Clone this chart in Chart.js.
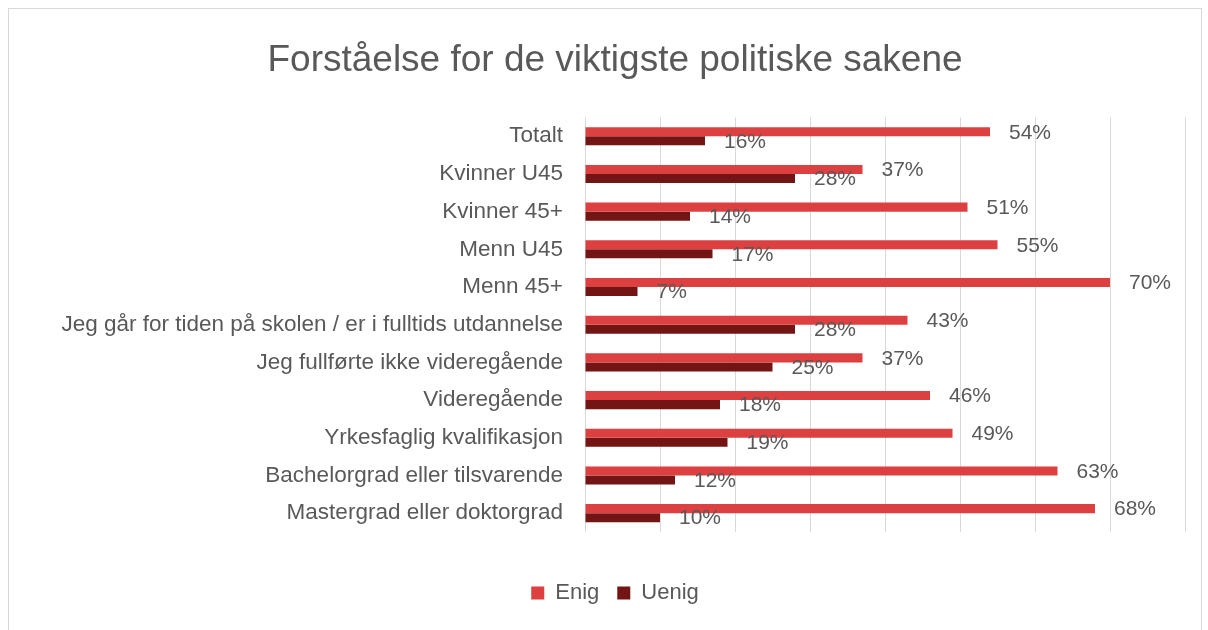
<!DOCTYPE html>
<html>
<head>
<meta charset="utf-8">
<script src="https://cdn.jsdelivr.net/npm/chart.js@4"></script>
<style>
    body { margin: 0; background: #fff; }
    .wrap { position: relative; width: 1208px; height: 630px; }
    .frame { position: absolute; left: 8px; top: 8px; width: 1192px; height: 640px; border: 1px solid #d9d9d9; pointer-events: none; }
</style>
</head>
<body>
<div class="wrap">
    <canvas id="chart" width="1208" height="630"></canvas>
    <div class="frame"></div>
</div>
<script>
const categories = ['Totalt', 'Kvinner U45', 'Kvinner 45+', 'Menn U45', 'Menn 45+',
    'Jeg går for tiden på skolen / er i fulltids utdannelse', 'Jeg fullførte ikke videregående',
    'Videregående', 'Yrkesfaglig kvalifikasjon', 'Bachelorgrad eller tilsvarende', 'Mastergrad eller doktorgrad'];
const enig = [54, 37, 51, 55, 70, 43, 37, 46, 49, 63, 68];
const uenig = [16, 28, 14, 17, 7, 28, 25, 18, 19, 12, 10];

const fontFam = '"Liberation Sans", Arial, sans-serif';
const grey = '#595959';

// etiketter til høyre for stolpene
const valueLabels = {
    id: 'valueLabels',
    afterDatasetsDraw(chart) {
        const ctx = chart.ctx;
        ctx.save();
        ctx.font = '21px ' + fontFam;
        ctx.fillStyle = grey;
        ctx.textBaseline = 'middle';
        chart.data.datasets.forEach((ds, i) => {
            chart.getDatasetMeta(i).data.forEach((bar, j) => {
                ctx.fillText(ds.data[j] + '%', bar.x + 19, bar.y + 1);
            });
        });
        ctx.restore();
    }
};

new Chart(document.getElementById('chart'), {
    type: 'bar',
    data: {
        labels: categories,
        datasets: [
            { label: 'Enig', data: enig, backgroundColor: '#dc4040', barPercentage: 1, categoryPercentage: 0.48 },
            { label: 'Uenig', data: uenig, backgroundColor: '#731515', barPercentage: 1, categoryPercentage: 0.48 }
        ]
    },
    options: {
        indexAxis: 'y',
        responsive: false,
        animation: false,
        layout: { padding: { left: 45, right: 23, top: 10, bottom: 16 } },
        plugins: {
            title: {
                display: true,
                text: 'Forståelse for de viktigste politiske sakene',
                color: grey,
                font: { family: fontFam, size: 37, weight: 'normal' },
                padding: { top: 29, bottom: 34 }
            },
            legend: {
                position: 'bottom',
                labels: {
                    color: grey,
                    font: { family: fontFam, size: 22 },
                    boxWidth: 13,
                    boxHeight: 13,
                    padding: 18
                }
            },
            tooltip: { enabled: false }
        },
        scales: {
            x: {
                min: 0,
                max: 80,
                afterFit(scale) { scale.height = 32; },
                ticks: { display: false, stepSize: 10 },
                grid: { color: '#d9d9d9', drawTicks: false },
                border: { display: false }
            },
            y: {
                afterFit(scale) { scale.width = 540; },
                ticks: { color: grey, font: { family: fontFam, size: 22.5 }, padding: 22 },
                grid: { display: false, drawTicks: false },
                border: { display: false }
            }
        }
    },
    plugins: [valueLabels]
});
</script>
</body>
</html>
